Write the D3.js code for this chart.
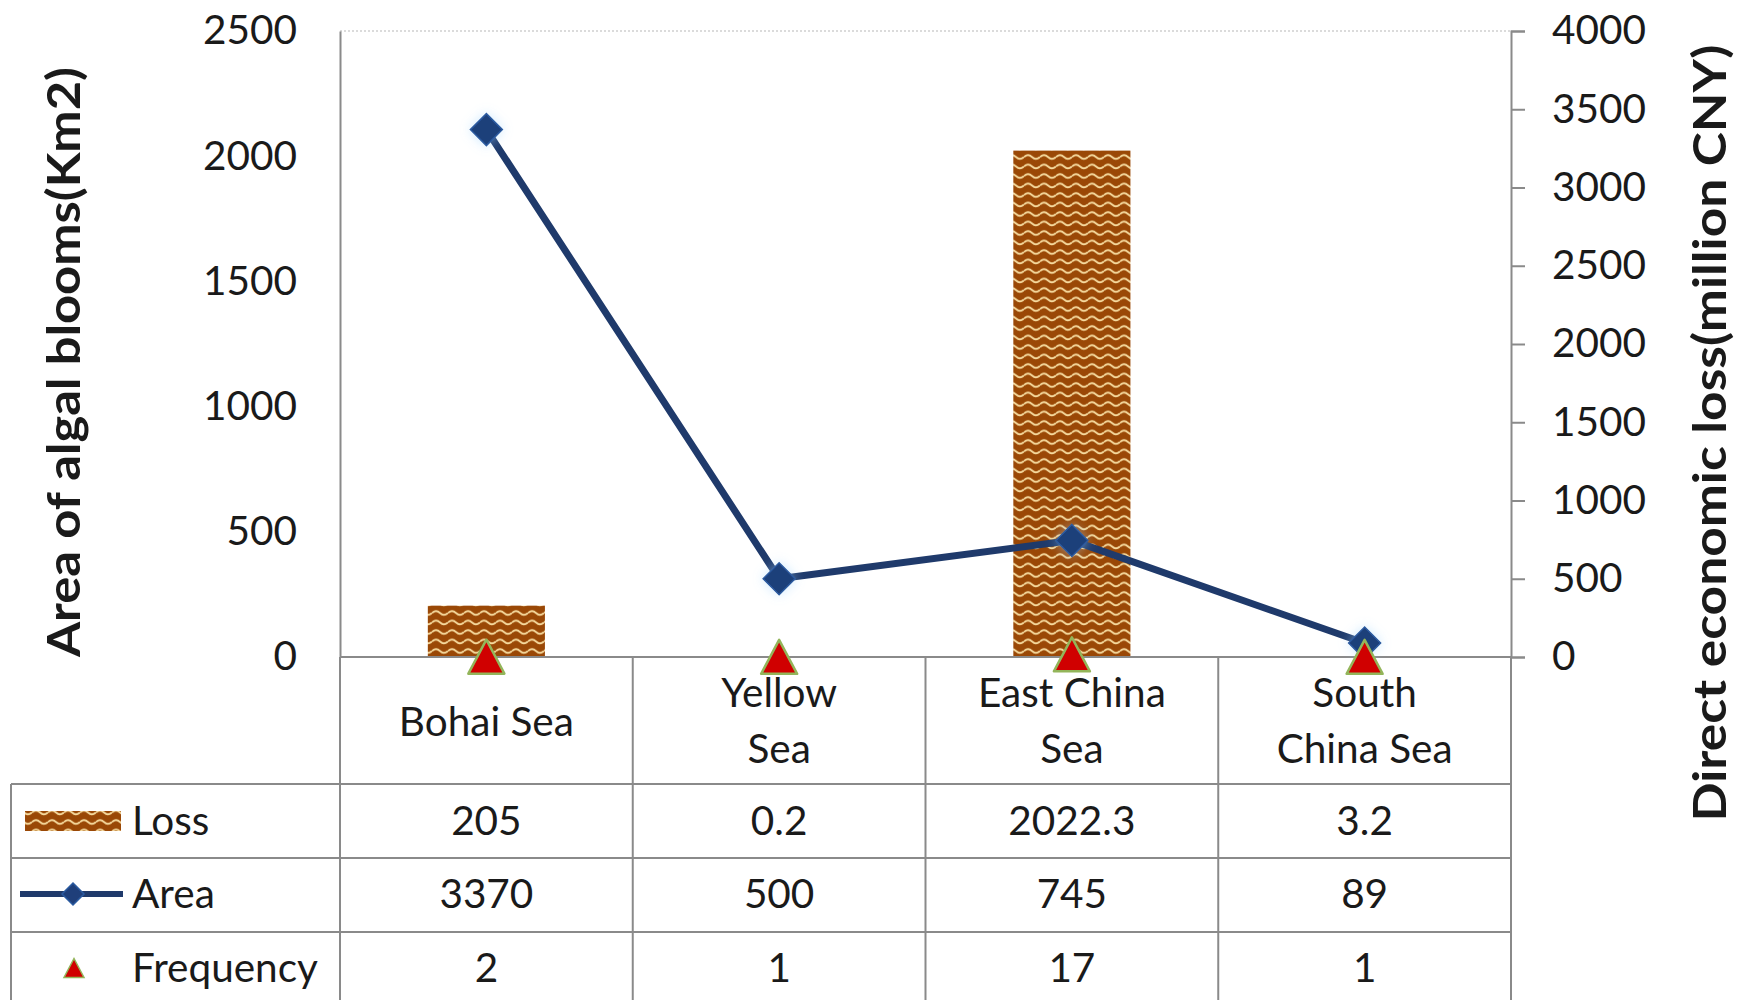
<!DOCTYPE html>
<html><head><meta charset="utf-8">
<script src="https://cdn.jsdelivr.net/npm/d3@7"></script>
<style>
html,body{margin:0;padding:0;background:#fff;}
svg{display:block;}
text{font-family:Lato,"Open Sans",sans-serif;fill:#1a1a1a;}
</style></head>
<body>
<svg id="chart" width="1752" height="1000"></svg>
<script>
// ---- data ----
const categories = ["Bohai Sea", "Yellow Sea", "East China Sea", "South China Sea"];
const categoryLines = [["Bohai Sea"], ["Yellow", "Sea"], ["East China", "Sea"], ["South", "China Sea"]];
const loss = [205, 0.2, 2022.3, 3.2];
const area = [3370, 500, 745, 89];
const frequency = [2, 1, 17, 1];
const leftTicks = [0, 500, 1000, 1500, 2000, 2500];
const rightTicks = [0, 500, 1000, 1500, 2000, 2500, 3000, 3500, 4000];
const seriesNames = ["Loss", "Area", "Frequency"];
const leftTitle = "Area of algal blooms(Km2)";
const rightTitle = "Direct economic loss(million CNY)";

// ---- layout ----
const svg = d3.select("#chart");
const L = 340, R = 1511, T = 31, B = 657;
const rowLines = [784, 858, 932, 1006];
const tableLeft = 11;
const grid = "#8a8a8a";
const fs = 40.5;
const fmt = d3.format("d");

const x = d3.scaleBand().domain(categories).range([L, R]);
const yL = d3.scaleLinear().domain([0, 2500]).range([B, T]);
const yR = d3.scaleLinear().domain([0, 4000]).range([B, T]);

const defs = svg.append("defs");
const pat = defs.append("pattern").attr("id", "wave").attr("patternUnits", "userSpaceOnUse")
  .attr("width", 16).attr("height", 9.5);
pat.append("rect").attr("width", 16).attr("height", 9.5).attr("fill", "#9a4806");
pat.append("path").attr("d", "M0,5 Q4,1.2 8,5 T16,5").attr("fill", "none")
  .attr("stroke", "#f7dca0").attr("stroke-width", 1.8);
const glow = defs.append("filter").attr("id", "glow").attr("x", "-100%").attr("y", "-100%")
  .attr("width", "300%").attr("height", "300%");
glow.append("feGaussianBlur").attr("in", "SourceAlpha").attr("stdDeviation", 6).attr("result", "b");
glow.append("feFlood").attr("flood-color", "#9fd4ff").attr("flood-opacity", 0.5);
glow.append("feComposite").attr("in2", "b").attr("operator", "in").attr("result", "g");
const mg = glow.append("feMerge");
mg.append("feMergeNode").attr("in", "g");
mg.append("feMergeNode").attr("in", "SourceGraphic");

// top dotted border of plot area
svg.append("line").attr("x1", L).attr("x2", R).attr("y1", T).attr("y2", T)
  .attr("stroke", "#cfcfcf").attr("stroke-width", 1.5).attr("stroke-dasharray", "2,2");

// left axis
const gL = svg.append("g").attr("transform", `translate(${L},0)`)
  .call(d3.axisLeft(yL).tickValues(leftTicks).tickFormat(fmt).tickSize(0).tickPadding(43));
gL.select(".domain").attr("stroke", grid).attr("stroke-width", 2);
gL.selectAll("text").attr("font-size", fs).attr("font-family", "Lato").attr("fill", "#1a1a1a");

// right axis
const gR = svg.append("g").attr("transform", `translate(${R},0)`)
  .call(d3.axisRight(yR).tickValues(rightTicks).tickFormat(fmt).tickSize(14).tickPadding(27));
gR.select(".domain").attr("stroke", grid).attr("stroke-width", 2);
gR.selectAll("line").attr("stroke", grid).attr("stroke-width", 2);
gR.selectAll("text").attr("font-size", fs).attr("font-family", "Lato").attr("fill", "#1a1a1a");

// axis titles
svg.append("text").attr("transform", `translate(80,362) rotate(-90)`)
  .attr("text-anchor", "middle").attr("font-weight", "bold").attr("font-size", 46).attr("fill", "#000")
  .attr("textLength", 590).attr("lengthAdjust", "spacingAndGlyphs")
  .text(leftTitle);
svg.append("text").attr("transform", `translate(1726,433) rotate(-90)`)
  .attr("text-anchor", "middle").attr("font-weight", "bold").attr("font-size", 46).attr("fill", "#000")
  .attr("textLength", 777).attr("lengthAdjust", "spacingAndGlyphs")
  .text(rightTitle);

// bars (Loss on left axis)
const bw = x.bandwidth() * 0.4;
svg.append("g").selectAll("rect").data(categories).join("rect")
  .attr("x", d => x(d) + (x.bandwidth() - bw) / 2)
  .attr("y", (d, i) => yL(loss[i]))
  .attr("width", bw)
  .attr("height", (d, i) => B - yL(loss[i]))
  .attr("fill", "url(#wave)");

// table grid
const tg = svg.append("g").attr("stroke", grid).attr("stroke-width", 2);
tg.append("line").attr("x1", L).attr("x2", R).attr("y1", B).attr("y2", B);
rowLines.forEach(y => tg.append("line").attr("x1", tableLeft).attr("x2", R).attr("y1", y).attr("y2", y));
tg.append("line").attr("x1", tableLeft).attr("x2", tableLeft).attr("y1", rowLines[0]).attr("y2", 1000);
[L, ...categories.map(c => x(c) + x.bandwidth())].forEach(xx =>
  tg.append("line").attr("x1", xx).attr("x2", xx).attr("y1", B).attr("y2", 1000));

// area line (right axis)
const line = d3.line().x((d, i) => x(categories[i]) + x.bandwidth() / 2).y(d => yR(d));
svg.append("path").datum(area).attr("d", line).attr("fill", "none")
  .attr("stroke", "#1f3a6b").attr("stroke-width", 7).attr("stroke-linejoin", "round");
const diamond = r => `M0,${-r}L${r},0L0,${r}L${-r},0Z`;
svg.append("g").selectAll("path").data(area).join("path")
  .attr("transform", (d, i) => `translate(${x(categories[i]) + x.bandwidth() / 2},${yR(d)})`)
  .attr("d", diamond(16)).attr("fill", "#1f3f7a").attr("stroke", "#2a5aa0").attr("stroke-width", 1.5)
  .attr("filter", "url(#glow)");

// frequency triangles (right axis)
const tri = (w, h) => `M0,${-h / 2}L${w / 2},${h / 2}L${-w / 2},${h / 2}Z`;
svg.append("g").selectAll("path").data(frequency).join("path")
  .attr("transform", (d, i) => `translate(${x(categories[i]) + x.bandwidth() / 2},${yR(d)})`)
  .attr("d", tri(36, 34)).attr("fill", "#d00000").attr("stroke", "#93b55a").attr("stroke-width", 2.5)
  .attr("stroke-linejoin", "round");

// category header labels
categories.forEach((c, i) => {
  const lines = categoryLines[i];
  const cx = x(c) + x.bandwidth() / 2;
  const ys = lines.length === 1 ? [722] : [693, 749];
  lines.forEach((t, k) => svg.append("text").attr("x", cx).attr("y", ys[k])
    .attr("dy", "0.35em").attr("text-anchor", "middle").attr("font-size", fs).text(t));
});

// data rows
const rows = [loss, area, frequency];
const rowCenters = [821, 894, 968];
rows.forEach((vals, r) => {
  vals.forEach((v, i) => svg.append("text")
    .attr("x", x(categories[i]) + x.bandwidth() / 2).attr("y", rowCenters[r]).attr("dy", "0.35em")
    .attr("text-anchor", "middle").attr("font-size", fs).text(String(v)));
  svg.append("text").attr("x", 132).attr("y", rowCenters[r]).attr("dy", "0.35em")
    .attr("font-size", fs).text(seriesNames[r]);
});

// legend keys
svg.append("rect").attr("x", 25).attr("y", 811).attr("width", 96).attr("height", 20).attr("fill", "url(#wave)");
svg.append("line").attr("x1", 20).attr("x2", 123).attr("y1", 894).attr("y2", 894)
  .attr("stroke", "#1f3a6b").attr("stroke-width", 6);
svg.append("path").attr("transform", "translate(73,894)").attr("d", diamond(11))
  .attr("fill", "#1f3f7a").attr("stroke", "#2a5aa0").attr("stroke-width", 1.5);
svg.append("path").attr("transform", "translate(74,968)").attr("d", tri(20, 19))
  .attr("fill", "#d00000").attr("stroke", "#93b55a").attr("stroke-width", 1.5);
</script>
</body></html>
